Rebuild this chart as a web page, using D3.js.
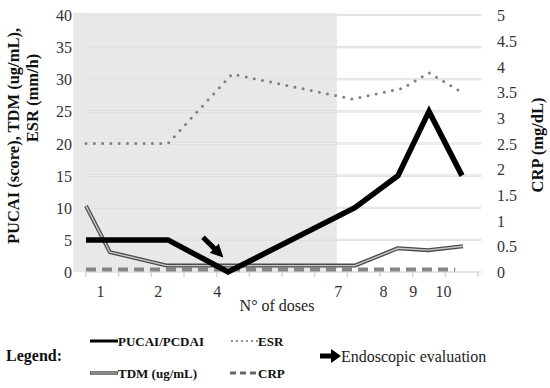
<!DOCTYPE html>
<html><head><meta charset="utf-8">
<script src="https://cdn.jsdelivr.net/npm/d3@7"></script>
<style>
html,body{margin:0;padding:0;background:#fff;}
svg{display:block;}
svg text{font-family:"Liberation Serif","Times New Roman","DejaVu Serif",serif !important;}
</style></head>
<body><svg id="c" width="550" height="388"></svg>
<script>
// ---- data (x in dose-axis units, 0..12) ----
const xTickLabels = ["1","2","4","7","8","9","10"];
const xTickLabelPos = [0.43, 2.2, 4.0, 7.71, 9.09, 10.0, 10.93];
const leftTicks = [0,5,10,15,20,25,30,35,40];
const rightTicks = [0,0.5,1,1.5,2,2.5,3,3.5,4,4.5,5];

const pucaiX = [0, 2.51, 4.35, 8.23, 9.55, 10.5, 11.51];
const pucaiY = [5, 5, 0, 10, 15, 25, 15];

const esrX = [0, 2.51, 4.47, 8.17, 9.7, 10.5, 11.39];
const esrY = [20, 20, 30.8, 26.9, 28.6, 31, 28.3];

const tdmX = [0, 0.73, 2.48, 8.23, 9.55, 10.47, 11.54];
const tdmY = [10.3, 3.1, 1, 1, 3.7, 3.4, 4.0];

const crpX = [0, 2.5, 4.4, 8.2, 9.5, 10.5, 11.3];
const crpY = [0.05, 0.05, 0.05, 0.05, 0.05, 0.05, 0.05];

const shadeRange = [-0.4, 7.68];
const endoArrow = [[3.58, 5.4], [3.98, 3.4]]; // [x,y] start -> shaft end in data units

const svg = d3.select("#c");
const x = d3.scaleLinear().domain([0,12]).range([86,478]);
const y = d3.scaleLinear().domain([0,40]).range([272,15]);
const yR = d3.scaleLinear().domain([0,5]).range([272,15]);

// shaded region
svg.append("rect")
  .attr("x", x(shadeRange[0])).attr("y", y(40.3))
  .attr("width", x(shadeRange[1]) - x(shadeRange[0]))
  .attr("height", y(0) - y(40.3))
  .attr("fill", "#e8e8e8");

// gridlines
const grid = svg.append("g");
leftTicks.forEach(t => {
  grid.append("line").attr("x1", x(0)).attr("x2", x(12.1)).attr("y1", y(t)).attr("y2", y(t))
    .attr("stroke", "#dadada").attr("stroke-width", 2.2);
  grid.append("line").attr("x1", x(0)).attr("x2", x(12.1)).attr("y1", y(t)).attr("y2", y(t))
    .attr("stroke", "#f1f1f1").attr("stroke-width", 0.8);
});
// x tick marks
d3.range(0, 13).forEach(i => {
  svg.append("line").attr("x1", x(i)).attr("x2", x(i)).attr("y1", y(0)).attr("y2", y(0) + 5)
    .attr("stroke", "#d4d4d4").attr("stroke-width", 1.5);
});

// axes labels (via d3 axes, domain/ticks hidden)
const leftAxis = svg.append("g").attr("transform", "translate(72,0)")
  .call(d3.axisLeft(y).tickValues(leftTicks).tickSize(0).tickPadding(0));
const rightAxis = svg.append("g").attr("transform", "translate(497,0)")
  .call(d3.axisRight(yR).tickValues(rightTicks).tickSize(0).tickPadding(0).tickFormat(d => String(d)));
const bottomAxis = svg.append("g").attr("transform", "translate(0,278)")
  .call(d3.axisBottom(x).tickValues(xTickLabelPos).tickSize(0).tickPadding(6)
    .tickFormat((d,i) => xTickLabels[i]));
[leftAxis, rightAxis, bottomAxis].forEach(g => {
  g.attr("font-family", null).attr("font-size", null);
  g.select(".domain").remove();
  g.selectAll("text").attr("font-size", 16).attr("fill", "#333");
});
leftAxis.selectAll("text").attr("dy", "0.35em");
rightAxis.selectAll("text").attr("dy", "0.35em");
bottomAxis.selectAll("text").attr("dy", "0.8em");

// series
const line = (xs, ys, ysc) => d3.line().x((d,i) => x(xs[i])).y((d,i) => ysc(ys[i]))(ys);

// CRP dashed
svg.append("path").attr("d", line(crpX, crpY, yR))
  .attr("fill","none").attr("stroke","#858585").attr("stroke-width",4)
  .attr("stroke-dasharray","10,6");

// TDM double line
svg.append("path").attr("d", line(tdmX, tdmY, y))
  .attr("fill","none").attr("stroke","#4a4a4a").attr("stroke-width",4).attr("stroke-linejoin","round");
svg.append("path").attr("d", line(tdmX, tdmY, y))
  .attr("fill","none").attr("stroke","#c8c8c8").attr("stroke-width",1.4).attr("stroke-linejoin","round");

// ESR dotted
svg.append("path").attr("d", line(esrX, esrY, y))
  .attr("fill","none").attr("stroke","#7f7f7f").attr("stroke-width",3)
  .attr("stroke-linecap","round").attr("stroke-dasharray","0,8.3");

// PUCAI thick black
svg.append("path").attr("d", line(pucaiX, pucaiY, y))
  .attr("fill","none").attr("stroke","#000").attr("stroke-width",5.5).attr("stroke-linejoin","miter");

// arrow marker
const defs = svg.append("defs");
defs.append("marker").attr("id","ah").attr("viewBox","0 0 10 10").attr("refX",2).attr("refY",5)
  .attr("markerWidth",2.6).attr("markerHeight",2.6).attr("orient","auto")
  .append("path").attr("d","M0,0 L10,5 L0,10 z").attr("fill","#000");

svg.append("line")
  .attr("x1", x(endoArrow[0][0])).attr("y1", y(endoArrow[0][1]))
  .attr("x2", x(endoArrow[1][0])).attr("y2", y(endoArrow[1][1]))
  .attr("stroke","#000").attr("stroke-width",5).attr("marker-end","url(#ah)");

// axis titles
svg.append("text").attr("transform","translate(19,136) rotate(-90)")
  .attr("text-anchor","middle").attr("font-weight","bold").attr("font-size",16.5).attr("fill","#111")
  .text("PUCAI (score), TDM (ug/mL),");
svg.append("text").attr("transform","translate(38,98) rotate(-90)")
  .attr("text-anchor","middle").attr("font-weight","bold").attr("font-size",16.5).attr("fill","#111")
  .text("ESR (mm/h)");
svg.append("text").attr("transform","translate(543,145) rotate(-90)")
  .attr("text-anchor","middle").attr("font-weight","bold").attr("font-size",16.5).attr("fill","#111")
  .text("CRP (mg/dL)");
svg.append("text").attr("x",277).attr("y",311).attr("text-anchor","middle")
  .attr("font-size",16).attr("fill","#222").text("N° of doses");

// legend
const lg = svg.append("g");
lg.append("text").attr("x",6).attr("y",361).attr("font-weight","bold").attr("font-size",16).attr("fill","#111").text("Legend:");
const legItems = [
  {name:"PUCAI/PCDAI", x:90, y:341, type:"pucai"},
  {name:"ESR", x:230, y:341, type:"esr"},
  {name:"TDM (ug/mL)", x:90, y:373, type:"tdm"},
  {name:"CRP", x:230, y:373, type:"crp"}
];
legItems.forEach(it => {
  const x1 = it.x, x2 = it.x + 28;
  if (it.type === "pucai") {
    lg.append("line").attr("x1",x1).attr("x2",x2).attr("y1",it.y).attr("y2",it.y).attr("stroke","#000").attr("stroke-width",3);
  } else if (it.type === "esr") {
    lg.append("line").attr("x1",x1+2).attr("x2",x2).attr("y1",it.y).attr("y2",it.y).attr("stroke","#777")
      .attr("stroke-width",2.2).attr("stroke-linecap","round").attr("stroke-dasharray","0,5");
  } else if (it.type === "tdm") {
    lg.append("line").attr("x1",x1).attr("x2",x2).attr("y1",it.y).attr("y2",it.y).attr("stroke","#555").attr("stroke-width",3.5);
    lg.append("line").attr("x1",x1+1).attr("x2",x2-1).attr("y1",it.y).attr("y2",it.y).attr("stroke","#aaa").attr("stroke-width",1.2);
  } else {
    lg.append("line").attr("x1",x1).attr("x2",x2).attr("y1",it.y).attr("y2",it.y).attr("stroke","#666")
      .attr("stroke-width",3).attr("stroke-dasharray","6,4");
  }
  lg.append("text").attr("x",x2).attr("y",it.y).attr("dy","0.35em").attr("font-weight","bold")
    .attr("font-size",13).attr("fill","#111").text(it.name);
});
lg.append("line").attr("x1",320).attr("x2",332).attr("y1",356).attr("y2",356).attr("stroke","#000").attr("stroke-width",5);
lg.append("path").attr("d","M331,349 L341,356 L331,363 Z").attr("fill","#000");
lg.append("text").attr("x",341).attr("y",356).attr("dy","0.35em").attr("font-size",16).attr("fill","#222")
  .text("Endoscopic evaluation");
</script></body></html>
